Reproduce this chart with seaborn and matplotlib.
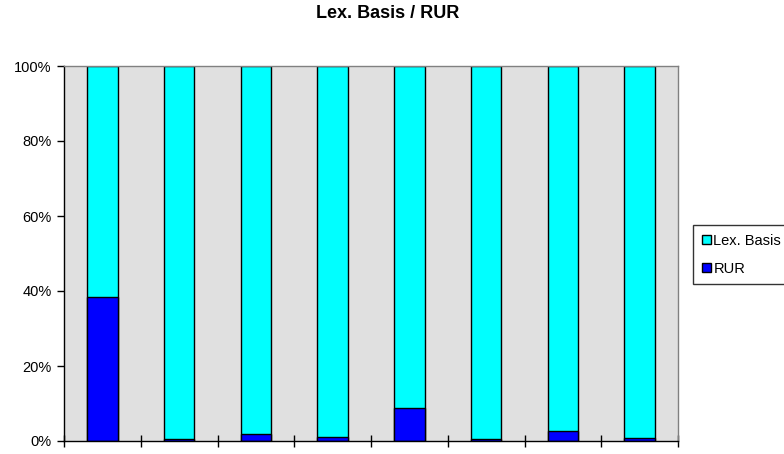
import matplotlib
matplotlib.use("Agg")
import matplotlib.pyplot as plt
import seaborn as sns
import pandas as pd
import numpy as np
from matplotlib.patches import Patch

categories = ["1", "2", "3", "4", "5", "6", "7", "8"]
rur = [38.4, 0.5, 2.0, 1.2, 8.8, 0.5, 2.7, 0.8]
lex_basis = [100 - v for v in rur]

df = pd.DataFrame({"cat": categories, "rur": rur, "lex": lex_basis})
df["total"] = df["rur"] + df["lex"]

sns.set_style("white")
plt.rcParams["font.family"] = ["Liberation Sans", "DejaVu Sans"]
plt.rcParams["text.color"] = "black"

fig = plt.figure(figsize=(7.84, 4.54), dpi=100)
ax = fig.add_axes([64 / 784, 13 / 454, 614 / 784, 375 / 454])
ax.set_facecolor("#e0e0e0")

sns.barplot(data=df, x="cat", y="total", color="#00ffff", width=0.4,
            edgecolor="black", linewidth=1, saturation=1, ax=ax)
sns.barplot(data=df, x="cat", y="rur", color="#0000ff", width=0.4,
            edgecolor="black", linewidth=1, saturation=1, ax=ax)

ax.set_xlim(-0.5, len(categories) - 0.5)
ax.set_ylim(0, 100)
ax.set_yticks([0, 20, 40, 60, 80, 100])
ax.set_yticklabels(["0%", "20%", "40%", "60%", "80%", "100%"], fontsize=10.5)
ax.set_xticks(np.arange(-0.5, len(categories), 1.0))
ax.set_xticklabels([])
ax.tick_params(axis="x", bottom=True, direction="inout", length=8, width=1, colors="black")
ax.tick_params(axis="y", left=True, direction="out", length=5, width=1, colors="black", pad=4)
ax.set_xlabel("")
ax.set_ylabel("")
for side in ["left", "bottom"]:
    ax.spines[side].set_color("black")
    ax.spines[side].set_linewidth(1)
for side in ["top", "right"]:
    ax.spines[side].set_color("#808080")
    ax.spines[side].set_linewidth(1)

fig.suptitle("Lex. Basis / RUR", x=0.494, y=0.99, fontsize=13, fontweight="bold",
             color="black")

handles = [Patch(facecolor="#00ffff", edgecolor="black", label="Lex. Basis"),
           Patch(facecolor="#0000ff", edgecolor="black", label="RUR")]
leg = fig.legend(handles=handles, loc="upper left",
                 bbox_to_anchor=(693 / 784, 1 - 225 / 454), fontsize=10.5,
                 frameon=True, fancybox=False, handlelength=0.6, handleheight=0.6,
                 handletextpad=0.2, borderpad=0.6, labelspacing=0.95,
                 borderaxespad=0)
leg.get_frame().set_edgecolor("black")
leg.get_frame().set_linewidth(1)

fig.savefig("out.png", dpi=100)
